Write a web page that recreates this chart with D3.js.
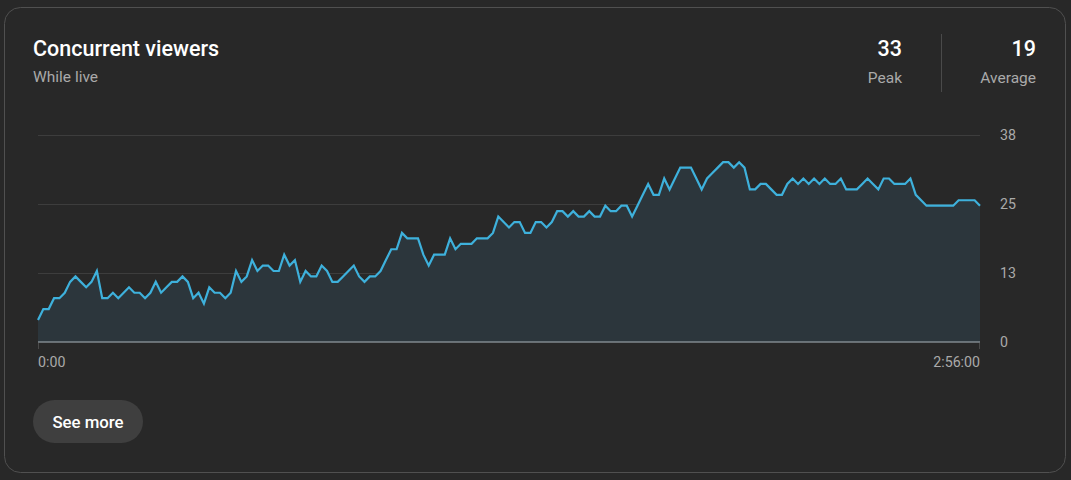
<!DOCTYPE html>
<html>
<head>
<meta charset="utf-8">
<script src="https://cdn.jsdelivr.net/npm/d3@7"></script>
<style>
  html, body { margin: 0; padding: 0; background: #282828; }
  svg { display: block; font-family: Roboto, "Noto Sans", sans-serif; }
</style>
</head>
<body>
<svg id="chart" width="1071" height="480"></svg>
<script>
// ---- data ----
const title = "Concurrent viewers";
const subtitle = "While live";
const statValues = ["33", "19"];
const statLabels = ["Peak", "Average"];
const minutes = d3.range(0, 177); // one sample per minute, 0:00 .. 2:56:00
const viewers = [
  4,6,6,8,8,9,11,12,11,10, 11,13,8,8,9,8,9,10,9,9,
  8,9,11,9,10,11,11,12,11,8, 9,7,10,9,9,8,9,13,11,12,
  15,13,14,14,13,13,16,14,15,11, 13,12,12,14,13,11,11,12,13,14,
  12,11,12,12,13,15,17,17,20,19, 19,19,16,14,16,16,16,19,17,18,
  18,18,19,19,19,20,23,22,21,22, 22,20,20,22,22,21,22,24,24,23,
  24,23,23,24,23,23,25,24,24,25, 25,23,25,27,29,27,27,30,28,30,
  32,32,32,30,28,30,31,32,33,33, 32,33,32,28,28,29,29,28,27,27,
  29,30,29,30,29,30,29,30,29,29, 30,28,28,28,29,30,29,28,30,30,
  29,29,29,30,27,26,25,25,25,25, 25,25,26,26,26,26,25
];
const yMax = 38;
const yTickValues = [0, yMax / 3, 2 * yMax / 3, yMax];
const yTickLabels = ["0", "13", "25", "38"];
const xTickValues = [0, 176];
const xTickLabels = ["0:00", "2:56:00"];
const buttonLabel = "See more";

// ---- drawing ----
const svg = d3.select("#chart");

// card
svg.append("rect")
  .attr("x", 4.5).attr("y", 7.5)
  .attr("width", 1061).attr("height", 465)
  .attr("rx", 16).attr("ry", 16)
  .attr("fill", "#282828")
  .attr("stroke", "#505050").attr("stroke-width", 1);

// header
svg.append("text").text(title)
  .attr("x", 33).attr("y", 56)
  .attr("fill", "#ffffff").attr("font-size", 21.5).attr("font-weight", 500);
svg.append("text").text(subtitle)
  .attr("x", 33).attr("y", 82)
  .attr("fill", "#aaaaaa").attr("font-size", 15.5);

const statX = [902, 1036];
statValues.forEach((v, i) => {
  svg.append("text").text(v)
    .attr("x", statX[i]).attr("y", 56)
    .attr("text-anchor", "end")
    .attr("fill", "#ffffff").attr("font-size", 21.5).attr("font-weight", 500);
  svg.append("text").text(statLabels[i])
    .attr("x", statX[i]).attr("y", 83)
    .attr("text-anchor", "end")
    .attr("fill", "#aaaaaa").attr("font-size", 15.5);
});
svg.append("line")
  .attr("x1", 941.5).attr("x2", 941.5).attr("y1", 34).attr("y2", 92)
  .attr("stroke", "#4a4a4a").attr("stroke-width", 1);

// scales
const x = d3.scaleLinear().domain([0, 176]).range([38, 980]);
const y = d3.scaleLinear().domain([0, yMax]).range([341.7, 135]);

// gridlines
svg.append("g").selectAll("line")
  .data(yTickValues.slice(1))
  .join("line")
  .attr("x1", 38).attr("x2", 980)
  .attr("y1", d => Math.round(y(d)) + 0.5).attr("y2", d => Math.round(y(d)) + 0.5)
  .attr("stroke", "#3d3d3d").attr("stroke-width", 1);

// area + line
const area = d3.area()
  .x((d, i) => x(minutes[i]))
  .y0(y(0))
  .y1(d => y(d));
svg.append("path")
  .datum(viewers)
  .attr("d", area)
  .attr("fill", "#2c363c");

const line = d3.line()
  .x((d, i) => x(minutes[i]))
  .y(d => y(d));
svg.append("path")
  .datum(viewers)
  .attr("d", line)
  .attr("fill", "none")
  .attr("stroke", "#3eb1dc")
  .attr("stroke-width", 2.2)
  .attr("stroke-linejoin", "miter");

// baseline
svg.append("line")
  .attr("x1", 38).attr("x2", 980)
  .attr("y1", 342).attr("y2", 342)
  .attr("stroke", "#aab6bd").attr("stroke-width", 1.2);

// x ticks + labels
xTickValues.forEach((v, i) => {
  svg.append("line")
    .attr("x1", x(v) + (i === 0 ? 0.5 : -0.5)).attr("x2", x(v) + (i === 0 ? 0.5 : -0.5))
    .attr("y1", 343).attr("y2", 349)
    .attr("stroke", "#4a4a4a").attr("stroke-width", 1);
  svg.append("text").text(xTickLabels[i])
    .attr("x", x(v)).attr("y", 367)
    .attr("text-anchor", i === 0 ? "start" : "end")
    .attr("fill", "#aaaaaa").attr("font-size", 14.2);
});

// y labels
yTickValues.forEach((v, i) => {
  svg.append("text").text(yTickLabels[i])
    .attr("x", 1000).attr("y", y(v))
    .attr("dy", "0.35em")
    .attr("fill", "#aaaaaa").attr("font-size", 14.2);
});

// button
svg.append("rect")
  .attr("x", 33).attr("y", 400)
  .attr("width", 110).attr("height", 43)
  .attr("rx", 21.5).attr("ry", 21.5)
  .attr("fill", "#3f3f3f");
svg.append("text").text(buttonLabel)
  .attr("x", 88).attr("y", 427.5)
  .attr("text-anchor", "middle")
  .attr("fill", "#ffffff").attr("font-size", 16.8).attr("font-weight", 500);
</script>
</body>
</html>
